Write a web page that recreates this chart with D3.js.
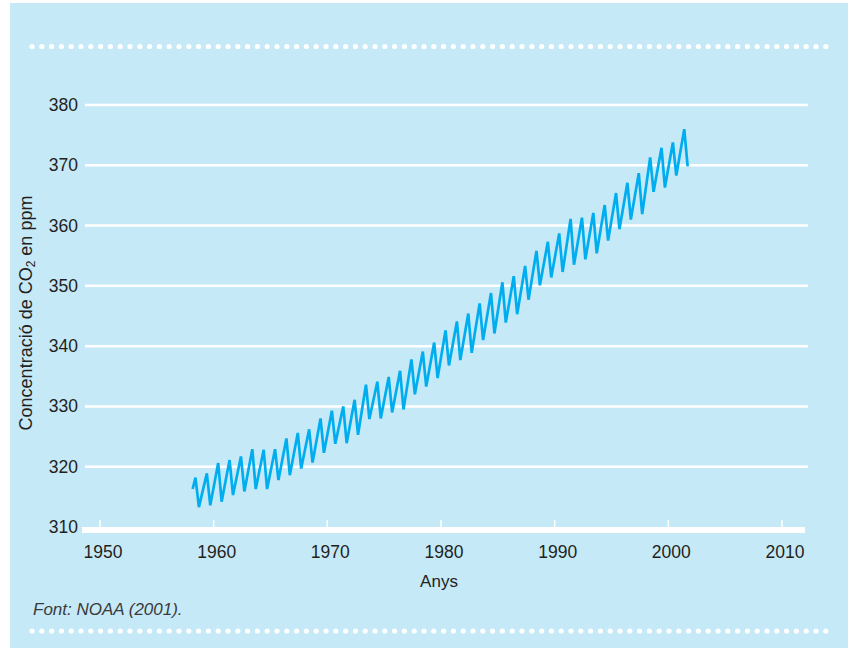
<!DOCTYPE html>
<html>
<head>
<meta charset="utf-8">
<script src="https://cdn.jsdelivr.net/npm/d3@7"></script>
<style>
body { margin: 0; background: #fff; }
text { font-family: "Liberation Sans", Arial, Helvetica, sans-serif; fill: #231f20; }
</style>
</head>
<body>
<div id="graphArea"></div>
<script>
// Mauna Loa style CO2 curve, one peak (spring) and one trough (autumn) per year
var years = d3.range(1958, 2002);
var peaks = [318.2, 318.9, 320.6, 321.1, 321.7, 322.9, 322.8, 322.9, 324.7, 325.6,
  326.2, 328.0, 329.3, 330.0, 331.1, 333.6, 334.1, 334.9, 335.9, 337.8,
  339.1, 340.6, 342.6, 344.1, 345.4, 347.1, 348.8, 350.6, 351.6, 353.3,
  355.8, 357.3, 358.7, 361.1, 361.3, 362.1, 363.4, 365.4, 367.1, 368.7,
  371.3, 372.9, 373.8, 376.0];
var troughs = [313.3, 313.6, 314.2, 315.3, 315.9, 316.3, 316.3, 317.8, 318.6, 319.7,
  320.7, 322.3, 323.8, 323.9, 325.3, 327.9, 328.0, 329.0, 329.5, 332.0,
  333.3, 334.7, 336.8, 337.7, 338.9, 341.0, 342.1, 343.9, 345.3, 347.7,
  350.1, 351.4, 352.3, 353.5, 354.4, 355.4, 357.5, 359.4, 361.0, 361.9,
  365.6, 366.3, 368.3, 369.8];
var firstPoint = [1958.15, 316.3];
var peakOffset = 0.4;    // fraction of year
var troughOffset = 0.7;

var xTicks = [1950, 1960, 1970, 1980, 1990, 2000, 2010];
var yTicks = [320, 330, 340, 350, 360, 370, 380];

var width = 856, height = 652;

var svg = d3.select("#graphArea")
  .append("svg")
  .attr("width", width)
  .attr("height", height);

svg.append("rect")
  .attr("x", 10).attr("y", 3)
  .attr("width", 838).attr("height", 645)
  .attr("fill", "#c6e9f8");

// dotted rules top and bottom
[46.5, 631].forEach(function(yy) {
  svg.append("g").selectAll("circle")
    .data(d3.range(32, 826, 9.8))
    .enter()
    .append("circle")
      .attr("cx", function(d) { return d; })
      .attr("cy", yy)
      .attr("r", 2.6)
      .attr("fill", "#fff");
});

var x = d3.scaleLinear().domain([1950, 2010]).range([100, 782]);
var y = d3.scaleLinear().domain([310, 380]).range([527, 105]);

// grid
svg.append("g").selectAll("line")
  .data(yTicks)
  .enter()
  .append("line")
    .attr("x1", 85).attr("x2", 808)
    .attr("y1", function(d) { return y(d); })
    .attr("y2", function(d) { return y(d); })
    .attr("stroke", "#fff")
    .attr("stroke-width", 2.5);

// y labels
svg.append("g").selectAll("text")
  .data([310].concat(yTicks))
  .enter()
  .append("text")
    .attr("x", 78)
    .attr("y", function(d) { return y(d) + 6; })
    .attr("text-anchor", "end")
    .style("font-size", "17.5px")
    .text(function(d) { return d; });

// x axis: thick white bar with small ticks pointing up
svg.append("line")
  .attr("x1", 82).attr("x2", 805)
  .attr("y1", y(310) + 3).attr("y2", y(310) + 3)
  .attr("stroke", "#fff")
  .attr("stroke-width", 6);

svg.append("g").selectAll("line")
  .data(xTicks)
  .enter()
  .append("line")
    .attr("x1", function(d) { return x(d); })
    .attr("x2", function(d) { return x(d); })
    .attr("y1", y(310) - 7)
    .attr("y2", y(310) + 1)
    .attr("stroke", "#fff")
    .attr("stroke-width", 1.5);

svg.append("g").selectAll("text")
  .data(xTicks)
  .enter()
  .append("text")
    .attr("x", function(d) { return x(d) + 3; })
    .attr("y", 558)
    .attr("text-anchor", "middle")
    .style("font-size", "17.5px")
    .text(function(d) { return d; });

// the series
var pts = [firstPoint];
years.forEach(function(yr, i) {
  pts.push([yr + peakOffset, peaks[i]]);
  pts.push([yr + troughOffset, troughs[i]]);
});

var line = d3.line()
  .x(function(d) { return x(d[0]); })
  .y(function(d) { return y(d[1]); });

svg.append("path")
  .datum(pts)
  .attr("d", line)
  .attr("fill", "none")
  .attr("stroke", "#00aeef")
  .attr("stroke-width", 2.7)
  .attr("stroke-linejoin", "miter");

// axis titles
svg.append("text")
  .attr("x", 439)
  .attr("y", 587)
  .attr("text-anchor", "middle")
  .style("font-size", "17px")
  .text("Anys");

var yt = svg.append("text")
  .attr("transform", "translate(32,313) rotate(-90)")
  .attr("text-anchor", "middle")
  .style("font-size", "18px");
yt.append("tspan").text("Concentració de CO");
yt.append("tspan").attr("dy", 3).style("font-size", "12px").text("2");
yt.append("tspan").attr("dy", -3).text(" en ppm");

svg.append("text")
  .attr("x", 33)
  .attr("y", 615)
  .style("font-size", "17px")
  .style("font-style", "italic")
  .style("fill", "#3a3a3a")
  .text("Font: NOAA (2001).");
</script>
</body>
</html>
